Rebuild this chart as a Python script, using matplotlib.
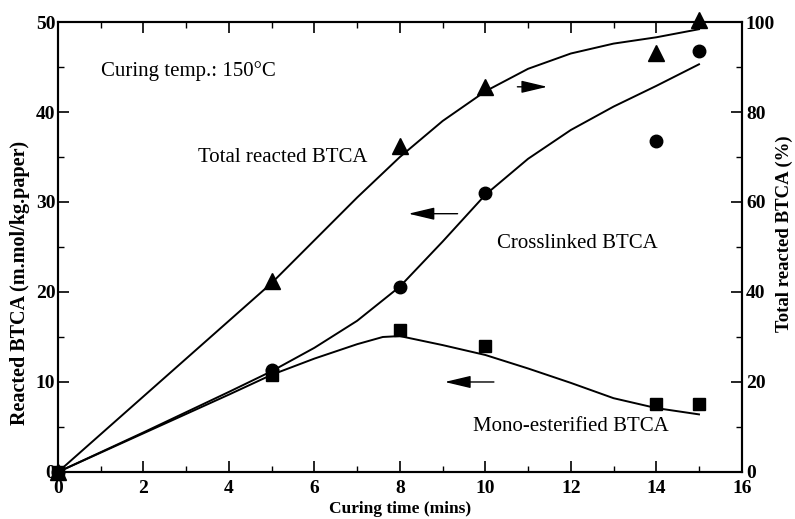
import numpy as np
import matplotlib
matplotlib.use("Agg")
import matplotlib.pyplot as plt
from matplotlib.ticker import MultipleLocator

plt.rcParams['font.family'] = ['Liberation Serif', 'DejaVu Serif']

# measured points
t_pts = [0, 5, 8, 10, 14, 15]
total_pct = [0, 42.5, 72.4, 85.6, 93.2, 100.4]      # right axis, %
crosslinked = [0, 11.3, 20.5, 31.0, 36.8, 46.8]     # left axis
mono = [0, 10.8, 15.8, 14.0, 7.5, 7.5]              # left axis

# fitted curves
t_total = [0, 5, 7, 8, 9, 10, 11, 12, 13, 14, 15]
total_fit = [0, 42.0, 61.0, 70.0, 78.0, 84.6, 89.6, 93.0, 95.2, 96.6, 98.4]
t_cross = [0, 2, 4, 5, 6, 7, 8, 9, 10, 11, 12, 13, 14, 15]
cross_fit = [0, 4.4, 8.9, 11.2, 13.8, 16.8, 20.6, 25.6, 30.8, 34.8, 38.0, 40.6, 42.9, 45.3]
t_mono = [0, 2, 4, 5, 6, 7, 7.6, 8, 9, 10, 11, 12, 13, 14, 15]
mono_fit = [0, 4.3, 8.6, 10.8, 12.6, 14.2, 15.0, 15.1, 14.1, 13.0, 11.5, 9.9, 8.2, 7.1, 6.4]

fig = plt.figure(figsize=(7.95, 5.19), dpi=100)
ax = fig.add_axes([0.073, 0.0906, 0.860, 0.867])
ax2 = ax.twinx()

lw = 1.4
ax.plot(t_cross, cross_fit, color='black', lw=lw)
ax.plot(t_mono, mono_fit, color='black', lw=lw)
ax.plot(t_pts, crosslinked, 'o', color='black', ms=9, clip_on=False, zorder=5)
ax.plot(t_pts, mono, 's', color='black', ms=8.5, clip_on=False, zorder=5)
ax2.plot(t_total, total_fit, color='black', lw=lw)
ax2.plot(t_pts, total_pct, '^', color='black', ms=11, clip_on=False, zorder=5)

ax.set_xlim(0, 16)
ax.set_ylim(0, 50)
ax2.set_ylim(0, 100)

ax.xaxis.set_major_locator(MultipleLocator(2))
ax.xaxis.set_minor_locator(MultipleLocator(1))
ax.yaxis.set_major_locator(MultipleLocator(10))
ax.yaxis.set_minor_locator(MultipleLocator(5))
ax2.yaxis.set_major_locator(MultipleLocator(20))
ax2.yaxis.set_minor_locator(MultipleLocator(10))

for a in (ax, ax2):
    a.tick_params(which='major', direction='in', length=8, width=1.2, labelsize=14)
    a.tick_params(which='minor', direction='in', length=4, width=1.0)
    for s in a.spines.values():
        s.set_linewidth(1.5)
    for lab in a.get_xticklabels() + a.get_yticklabels():
        lab.set_fontweight('bold')
ax.tick_params(axis='x', which='both', top=True, pad=6)
ax.tick_params(axis='y', pad=2)
ax2.tick_params(axis='y', pad=3)

ax.set_xlabel('Curing time (mins)', fontsize=12.5, fontweight='bold', labelpad=3)
ax.set_ylabel('Reacted BTCA (m.mol/kg.paper)', fontsize=14.5, fontweight='bold', va='center')
ax.yaxis.set_label_coords(-0.056, 0.42)
ax2.set_ylabel('Total reacted BTCA (%)', fontsize=13.5, fontweight='bold', va='center')
ax2.yaxis.set_label_coords(1.062, 0.53)

ax.text(1.0, 44.6, 'Curing temp.: 150°C', fontsize=15, va='center')
ax.text(3.27, 34.9, 'Total reacted BTCA', fontsize=15, va='center')
ax.text(10.27, 25.4, 'Crosslinked BTCA', fontsize=15, va='center')
ax.text(9.7, 5.0, 'Mono-esterified BTCA', fontsize=15, va='center')

arrow = dict(arrowstyle='-|>,head_length=1.6,head_width=0.38', color='black', lw=1.0,
             shrinkA=0, shrinkB=0)
ax.annotate('', xy=(11.45, 42.8), xytext=(10.75, 42.8), arrowprops=arrow)
ax.annotate('', xy=(8.2, 28.7), xytext=(9.35, 28.7), arrowprops=arrow)
ax.annotate('', xy=(9.05, 10.0), xytext=(10.2, 10.0), arrowprops=arrow)

fig.savefig('out.png', dpi=100)
